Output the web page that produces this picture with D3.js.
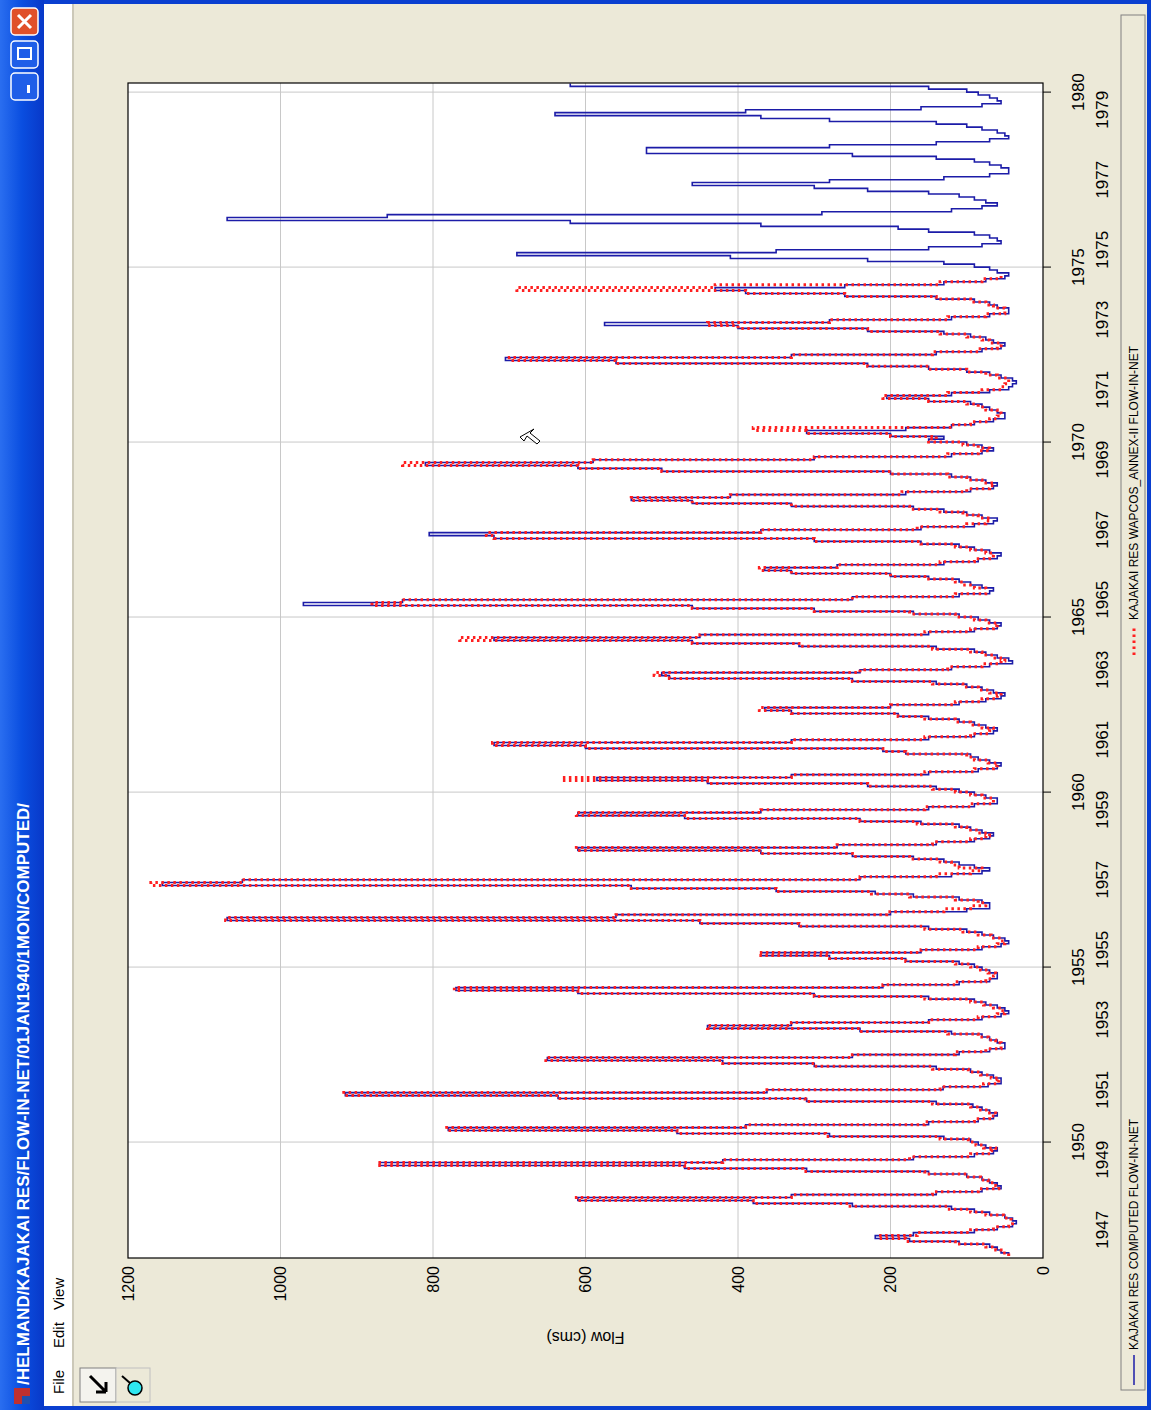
<!DOCTYPE html>
<html><head><meta charset="utf-8">
<script src="https://cdn.jsdelivr.net/npm/d3@7"></script>
<style>body{margin:0;background:#ece9d8;overflow:hidden}text{font-family:"Liberation Sans",Arial,sans-serif}</style>
</head><body>
<svg id="c" width="1151" height="1410"></svg>
<script>
// Monthly flows (cms), water years Oct..Sep, starting Oct 1946
const startYear = 1946, startMonth = 9; // Oct 1946 (0-based month)
const computedFlow = [
45,55,60,70,110,175,220,170,90,60,40,35,
40,50,70,90,120,250,380,610,330,140,80,55,
60,70,80,100,150,310,470,870,420,170,90,65,
60,75,85,95,130,280,480,780,390,150,85,65,
60,70,80,92,140,310,636,915,362,131,72,55,
55,65,80,95,140,300,420,650,250,110,70,50,
50,60,70,80,120,240,440,330,150,80,55,45,
50,60,75,90,150,300,610,770,210,110,70,60,
60,70,80,90,110,180,280,370,160,80,55,45,
50,65,80,100,150,320,450,1070,560,200,100,70,
70,80,110,170,220,350,540,1155,1050,240,120,80,
70,90,110,130,170,250,370,610,270,140,90,70,
65,80,95,110,160,240,470,610,370,150,90,60,
60,75,90,110,140,230,440,585,330,150,85,60,
55,70,85,95,180,210,600,720,330,150,90,65,
60,75,90,110,150,190,330,365,200,110,75,55,
50,65,80,100,140,250,490,500,240,120,70,40,
45,60,75,90,140,320,460,720,450,150,90,60,
55,70,85,110,170,300,460,970,840,250,110,70,
65,80,95,110,150,200,330,365,270,130,85,60,
55,70,90,110,160,300,720,805,370,160,90,65,
60,80,100,130,170,330,460,540,410,180,95,65,
60,75,95,120,200,500,610,810,590,300,120,80,
65,80,100,150,130,200,310,180,120,90,65,50,
50,60,70,80,95,150,205,120,70,45,40,35,
40,55,70,100,150,230,560,705,330,140,80,55,
50,65,75,95,130,230,400,575,280,120,70,45,
45,60,70,90,140,260,390,430,260,130,75,50,
45,60,70,90,130,230,410,690,350,150,80,55,
60,70,90,150,190,370,620,1070,860,290,120,80,
60,75,90,110,150,230,300,460,280,130,70,45,
45,55,70,90,140,250,520,520,280,140,70,45,
50,60,80,100,140,280,370,640,390,160,80,55,
60,70,85,100,150,620
];
const wapcosFlow = [
45,55,62,75,115,180,215,165,95,65,45,40,
42,52,75,95,125,255,380,612,330,145,85,58,
62,72,82,100,155,315,470,872,420,175,95,68,
62,78,88,98,135,285,480,782,390,155,90,70,
62,72,82,95,145,312,636,917,362,135,78,60,
58,68,82,98,145,300,420,652,250,115,75,55,
55,62,72,85,125,240,440,330,150,85,60,50,
55,65,78,95,155,300,610,772,210,115,75,65,
62,72,82,95,115,180,280,372,160,85,60,50,
55,68,85,105,155,320,450,1072,560,205,130,95,
75,85,115,175,225,350,540,1170,1050,240,140,95,
80,110,120,135,175,250,370,612,270,145,95,75,
70,85,100,115,165,240,470,612,370,155,95,65,
65,80,95,115,145,230,440,630,330,155,90,65,
60,72,90,100,180,210,600,722,330,155,95,70,
65,80,95,115,155,190,330,372,200,115,80,60,
55,70,85,105,145,250,490,510,240,125,80,55,
50,65,80,95,145,320,460,765,450,155,95,65,
60,75,90,115,175,300,460,880,840,250,115,75,
75,90,105,115,155,200,330,372,270,135,90,70,
65,75,95,115,160,300,720,730,370,165,100,75,
70,85,105,135,175,330,460,540,410,185,100,70,
65,80,100,125,200,500,610,840,590,300,125,85,
70,85,105,150,140,200,310,380,120,95,70,60,
55,60,75,85,100,150,210,125,80,55,50,45,
45,60,75,100,150,230,560,700,330,145,85,60,
55,70,80,100,135,230,400,440,280,125,75,50,
50,65,75,95,140,260,390,690,430,135,80,55
];
const flowTicks = [0,200,400,600,800,1000,1200];
const gridYears = [1950,1955,1960,1965,1970,1975,1980];
const oddYears = [1947,1949,1951,1953,1955,1957,1959,1961,1963,1965,1967,1969,1971,1973,1975,1977,1979];
const seriesNames = ["KAJAKAI RES COMPUTED FLOW-IN-NET","KAJAKAI RES WAPCOS_ANNEX-II FLOW-IN-NET"];
const titleText = "/HELMAND/KAJAKAI RES/FLOW-IN-NET/01JAN1940/1MON/COMPUTED/";

const svg = d3.select("#c");
svg.append("rect").attr("width",1151).attr("height",1410).attr("fill","#0a3fd0");
const g = svg.append("g").attr("transform","translate(0,1410) rotate(-90)");
g.append("rect").attr("x",4).attr("y",44).attr("width",1402).attr("height",1103).attr("fill","#ece9d8");
const defs = svg.append("defs");
const lg = defs.append("linearGradient").attr("id","tb").attr("x1",0).attr("y1",0).attr("x2",0).attr("y2",1);
lg.append("stop").attr("offset",0).attr("stop-color","#2a6ef0");
lg.append("stop").attr("offset",0.5).attr("stop-color","#0a4ee0");
lg.append("stop").attr("offset",1).attr("stop-color","#0838c8");
g.append("rect").attr("x",0).attr("y",0).attr("width",1410).attr("height",44).attr("fill","url(#tb)");
g.append("rect").attr("x",6).attr("y",14).attr("width",16).attr("height",16).attr("fill","#c03030");
g.append("rect").attr("x",6).attr("y",22).attr("width",8).attr("height",8).attr("fill","#2050b0");
g.append("text").attr("x",25).attr("y",29).attr("fill","#fff").attr("font-weight","bold").attr("font-size",16)
  .attr("textLength",582).attr("lengthAdjust","spacingAndGlyphs").text(titleText);
const btns=[{u:1310,c:"#1f5ee8"},{u:1342,c:"#1f5ee8"},{u:1375,c:"#e0502a"}];
btns.forEach(b=>g.append("rect").attr("x",b.u).attr("y",11).attr("width",27).attr("height",27).attr("rx",4)
  .attr("fill",b.c).attr("stroke","#fff").attr("stroke-width",1.5));
g.append("path").attr("d","M1382,18 L1395,31 M1395,18 L1382,31").attr("stroke","#fff").attr("stroke-width",3);
g.append("rect").attr("x",1351).attr("y",18).attr("width",11).attr("height",13).attr("fill","none").attr("stroke","#fff").attr("stroke-width",2);
g.append("rect").attr("x",1317).attr("y",27).attr("width",8).attr("height",3).attr("fill","#fff");
g.append("rect").attr("x",4).attr("y",44).attr("width",1402).attr("height",28).attr("fill","#fff");
g.append("line").attr("x1",4).attr("x2",1406).attr("y1",73).attr("y2",73).attr("stroke","#aca899");
[["File",16],["Edit",62],["View",100]].forEach(m=>g.append("text").attr("x",m[1]).attr("y",64).attr("font-size",15).attr("fill","#000").text(m[0]));
g.append("rect").attr("x",8).attr("y",80).attr("width",34).attr("height",36).attr("fill","#f4f3ee").attr("stroke","#808080");
g.append("path").attr("d","M34,90 L18,106 M18,106 L18,96 M18,106 L28,106").attr("stroke","#000").attr("stroke-width",3).attr("fill","none");
g.append("rect").attr("x",8).attr("y",116).attr("width",34).attr("height",34).attr("fill","#ece9d8").attr("stroke","#c0c0c0");
g.append("circle").attr("cx",22).attr("cy",135).attr("r",7).attr("fill","#2ee6f0").attr("stroke","#000").attr("stroke-width",1.5);
g.append("line").attr("x1",27).attr("y1",130).attr("x2",34).attr("y2",122).attr("stroke","#000").attr("stroke-width",2);

const L=152, R=1327, T=128, B=1043;
g.append("rect").attr("x",L).attr("y",T).attr("width",R-L).attr("height",B-T).attr("fill","#fff");
const x = d3.scaleUtc().domain([new Date(Date.UTC(1946,8,9)), new Date(Date.UTC(1980,3,5))]).range([L,R]);
const y = d3.scaleLinear().domain([0,1200]).range([B,T]);
g.selectAll(".gy").data(flowTicks.filter(v=>v>0&&v<1200)).join("line")
 .attr("x1",L).attr("x2",R).attr("y1",d=>y(d)).attr("y2",d=>y(d)).attr("stroke","#c8c8c8");
g.selectAll(".gx").data(gridYears).join("line")
 .attr("x1",d=>x(new Date(Date.UTC(d,0,1)))).attr("x2",d=>x(new Date(Date.UTC(d,0,1))))
 .attr("y1",T).attr("y2",B).attr("stroke","#c8c8c8");
g.selectAll(".gxt").data(gridYears).join("line")
 .attr("x1",d=>x(new Date(Date.UTC(d,0,1)))).attr("x2",d=>x(new Date(Date.UTC(d,0,1))))
 .attr("y1",B).attr("y2",B+8).attr("stroke","#000");
function pts(arr){const p=arr.map((v,i)=>({t:new Date(Date.UTC(startYear,startMonth+i,1)),v}));
  p.push({t:new Date(Date.UTC(startYear,startMonth+arr.length,1)),v:arr[arr.length-1]});return p;}
const line = d3.line().x(d=>x(d.t)).y(d=>y(d.v)).curve(d3.curveStepAfter);
const clip = defs.append("clipPath").attr("id","pc");
clip.append("rect").attr("x",L).attr("y",T).attr("width",R-L).attr("height",B-T);
const pg = g.append("g").attr("clip-path","url(#pc)");
pg.append("path").attr("d",line(pts(computedFlow))).attr("fill","none").attr("stroke","#1c1ca8").attr("stroke-width",1.6);
pg.append("path").attr("d",line(pts(wapcosFlow))).attr("fill","none").attr("stroke","#ff2020").attr("stroke-width",3).attr("stroke-dasharray","2.5,3.5");
g.append("rect").attr("x",L).attr("y",T).attr("width",R-L).attr("height",B-T).attr("fill","none").attr("stroke","#000").attr("stroke-width",1.2);
const ya = g.append("g").attr("transform",`translate(${L},0)`).call(d3.axisLeft(y).tickValues(flowTicks).tickFormat(d3.format("d")).tickSize(0).tickPadding(8));
ya.select(".domain").remove();
ya.selectAll("text").attr("font-size",16).attr("font-family","Liberation Sans, Arial").attr("fill","#000");
g.append("text").attr("transform",`translate(78,${(T+B)/2}) rotate(-90)`).attr("text-anchor","middle").attr("font-size",16).text("Flow (cms)");
g.selectAll(".xl1").data(gridYears).join("text").attr("x",d=>x(new Date(Date.UTC(d,0,1)))).attr("y",1084)
 .attr("text-anchor","middle").attr("font-size",17).text(d=>d);
g.selectAll(".xl2").data(oddYears).join("text").attr("x",d=>x(new Date(Date.UTC(d,6,1)))).attr("y",1108)
 .attr("text-anchor","middle").attr("font-size",17).text(d=>d);
g.append("rect").attr("x",20).attr("y",1121).attr("width",1375).attr("height",24).attr("fill","none").attr("stroke","#808080");
g.append("line").attr("x1",25).attr("x2",55).attr("y1",1134).attr("y2",1134).attr("stroke","#1c1ca8").attr("stroke-width",1.5);
g.append("text").attr("x",60).attr("y",1138).attr("font-size",12).text(seriesNames[0]);
g.append("line").attr("x1",755).attr("x2",785).attr("y1",1134).attr("y2",1134).attr("stroke","#ff2020").attr("stroke-width",3).attr("stroke-dasharray","2.5,3.5");
g.append("text").attr("x",790).attr("y",1138).attr("font-size",12).text(seriesNames[1]);
// mouse cursor (screen coords)
svg.append("path").attr("d","M520,437 l14,-8 l-4,4 l10,8 l-3,3 l-10,-8 l-3,5 z").attr("fill","#fff").attr("stroke","#000");
</script>
</body></html>
